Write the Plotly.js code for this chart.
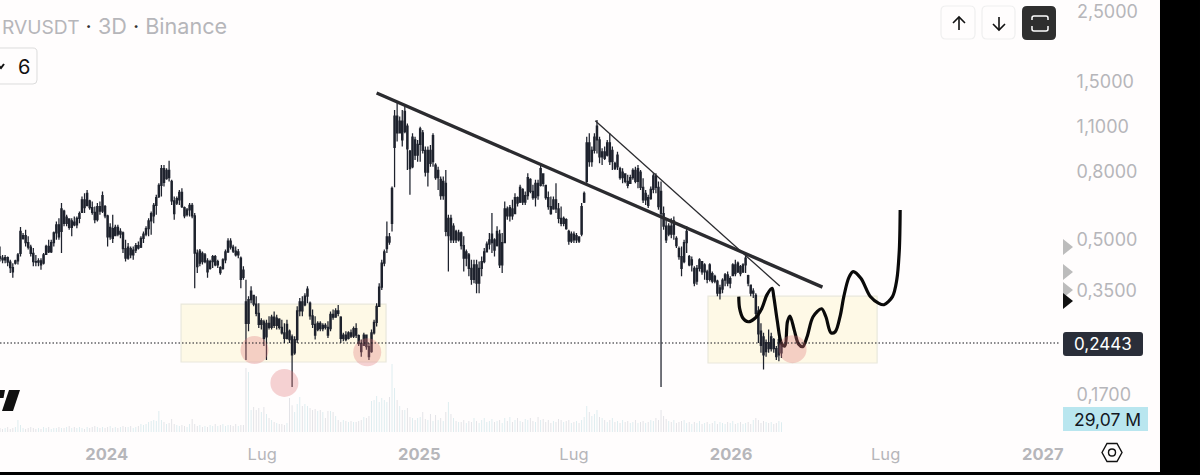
<!DOCTYPE html>
<html>
<head>
<meta charset="utf-8">
<script src="https://cdn.plot.ly/plotly-3.0.1.min.js"></script>
<style>html,body{margin:0;padding:0;background:#fffdfd;overflow:hidden}#c{width:1200px;height:475px}</style>
</head>
<body>
<div id="c"></div>
<script>
const firstCandle = '2023-08-29';
const candleStepDays = 3;
const open = [
.445,.440,.435,.442,.428,.412,.425,.432,.455,.505,
.515,.490,.475,.455,.430,.428,.432,.425,.452,.478,
.460,.490,.525,.555,.530,.610,.560,.578,.545,.565,
.555,.580,.605,.660,.635,.655,.625,.605,.575,.630,
.610,.630,.590,.510,.540,.515,.545,.520,.525,.470,
.440,.470,.450,.465,.480,.475,.505,.520,.540,.570,
.590,.635,.675,.730,.820,.765,.810,.750,.655,.645,
.660,.695,.625,.595,.615,.635,.590,.456,.425,.455,
.430,.432,.410,.430,.445,.420,.412,.410,.435,.460,
.495,.475,.462,.450,.440,.405,.325,.280,.330,.340,
.320,.300,.278,.283,.255,.280,.272,.292,.276,.288,
.272,.262,.252,.265,.255,.228,.250,.305,.325,.318,
.338,.322,.295,.278,.268,.280,.270,.276,.272,.270,
.298,.292,.305,.292,.252,.258,.252,.262,.256,.270,
.257,.243,.240,.258,.238,.230,.262,.282,.315,.360,
.425,.470,.510,.560,.950,1.18,1.05,1.14,1.06,1.10,
.925,.830,1.00,.900,.970,1.05,.930,.800,.930,.860,
.840,.770,.760,.680,.740,.515,.580,.500,.530,.500,
.525,.480,.440,.450,.410,.380,.420,.370,.410,.430,
.460,.485,.490,.500,.480,.520,.420,.490,.620,.590,
.620,.600,.670,.650,.710,.650,.680,.760,.700,.670,
.740,.730,.790,.730,.670,.630,.620,.660,.620,.580,
.560,.575,.530,.495,.520,.500,.510,.520,.650,.750,
.980,.860,.930,1.00,1.00,.890,.920,.900,.980,.860,
.850,.830,.820,.770,.790,.750,.740,.770,.810,.750,
.800,.720,.660,.670,.665,.710,.780,.720,.700,.600,
.550,.520,.550,.520,.505,.470,.445,.430,.490,.445,
.420,.410,.375,.410,.430,.400,.400,.380,.395,.375,
.375,.345,.355,.378,.392,.370,.390,.420,.400,.415,
.400,.420,.390,.365,.345,.340,.305,.265,.255,.230,
.245,.235,.250,.235,.225,.228];
const high = [
.477,.450,.450,.445,.435,.425,.435,.456,.546,.524,
.536,.512,.483,.472,.450,.440,.440,.456,.483,.500,
.500,.530,.568,.581,.645,.616,.595,.581,.581,.588,
.588,.609,.675,.691,.707,.660,.652,.630,.645,.652,
.699,.637,.595,.561,.595,.555,.555,.542,.530,.500,
.489,.477,.477,.489,.494,.512,.530,.549,.581,.609,
.645,.683,.741,.841,.841,.821,.866,.758,.675,.675,
.707,.715,.630,.623,.645,.645,.602,.467,.469,.461,
.456,.440,.435,.450,.450,.435,.416,.440,.467,.505,
.505,.483,.477,.469,.445,.416,.379,.338,.362,.341,
.338,.322,.290,.287,.287,.294,.297,.304,.297,.290,
.287,.280,.287,.268,.259,.256,.315,.334,.338,.345,
.362,.326,.308,.294,.284,.284,.280,.280,.284,.304,
.308,.311,.318,.294,.262,.265,.265,.268,.274,.280,
.259,.250,.262,.259,.244,.268,.287,.322,.370,.435,
.467,.568,.524,.724,1.231,1.305,1.176,1.231,1.275,1.122,
.933,1.047,1.023,1.000,1.096,1.071,.955,.955,.966,1.047,
.851,.831,.776,.776,.812,.595,.595,.561,.536,.536,
.530,.512,.467,.456,.435,.435,.435,.430,.445,.472,
.494,.524,.602,.505,.549,.536,.524,.652,.630,.637,
.660,.691,.675,.733,.715,.699,.794,.767,.733,.758,
.758,.841,.794,.733,.699,.675,.675,.741,.645,.630,
.588,.581,.536,.530,.530,.524,.512,.645,.699,1.023,
1.047,.955,1.047,1.148,1.023,.944,.955,1.000,1.047,.955,
.860,.922,.831,.821,.794,.785,.785,.821,.831,.841,
.812,.767,.707,.683,.724,.794,.794,.750,.750,.630,
.575,.561,.581,.588,.512,.477,.477,.500,.549,.450,
.445,.416,.420,.440,.430,.425,.406,.425,.401,.392,
.379,.366,.383,.397,.401,.388,.425,.435,.430,.420,
.425,.450,.392,.366,.357,.345,.315,.280,.262,.250,
.268,.262,.253,.239,.262,.247];
const low = [
.430,.425,.425,.416,.397,.384,.421,.421,.445,.500,
.477,.467,.445,.416,.416,.416,.406,.421,.450,.456,
.456,.477,.500,.500,.456,.549,.549,.536,.512,.549,
.542,.561,.602,.602,.630,.616,.595,.561,.568,.595,
.602,.581,.477,.500,.489,.512,.512,.505,.456,.430,
.435,.440,.435,.456,.467,.472,.489,.512,.512,.518,
.561,.595,.668,.675,.724,.758,.750,.637,.575,.637,
.637,.623,.581,.588,.588,.581,.357,.397,.416,.421,
.425,.384,.406,.411,.416,.411,.392,.406,.425,.456,
.467,.456,.445,.440,.357,.379,.217,.265,.322,.315,
.294,.271,.268,.239,.217,.268,.268,.271,.268,.268,
.259,.244,.250,.244,.180,.225,.244,.294,.294,.315,
.322,.287,.271,.250,.265,.265,.265,.268,.253,.265,
.287,.294,.294,.244,.247,.247,.250,.253,.253,.253,
.239,.222,.239,.233,.217,.228,.259,.274,.315,.353,
.416,.456,.483,.530,.720,.989,1.047,.955,1.047,.812,
.683,.821,.870,.860,.860,.911,.776,.724,.831,.831,
.758,.707,.660,.660,.512,.401,.489,.489,.489,.494,
.467,.401,.416,.388,.366,.370,.345,.345,.388,.425,
.467,.467,.456,.445,.477,.411,.397,.489,.575,.568,
.575,.602,.630,.645,.637,.637,.660,.691,.660,.630,
.660,.724,.724,.660,.616,.595,.616,.602,.561,.549,
.549,.536,.483,.489,.489,.489,.489,.512,.645,.741,
.831,.831,.911,.911,.851,.841,.870,.891,.841,.812,
.812,.812,.758,.741,.741,.715,.741,.758,.741,.715,
.707,.645,.637,.623,.660,.691,.691,.616,.180,.536,
.489,.512,.505,.500,.472,.435,.388,.425,.456,.416,
.401,.362,.366,.401,.392,.379,.370,.374,.370,.370,
.338,.330,.345,.362,.362,.357,.388,.388,.397,.388,
.397,.397,.362,.338,.334,.294,.244,.228,.203,.222,
.228,.230,.228,.217,.215,.220];
const close = [
.440,.435,.442,.428,.412,.400,.432,.450,.530,.515,
.490,.475,.455,.430,.428,.432,.420,.450,.478,.460,
.490,.525,.555,.510,.620,.560,.585,.545,.570,.555,
.580,.600,.660,.625,.690,.625,.605,.575,.630,.610,
.680,.590,.510,.545,.505,.545,.520,.530,.470,.440,
.475,.450,.465,.480,.472,.505,.520,.540,.570,.600,
.635,.670,.730,.820,.745,.810,.770,.655,.600,.665,
.695,.630,.590,.615,.635,.590,.456,.415,.462,.430,
.450,.400,.430,.445,.420,.430,.398,.435,.460,.495,
.475,.462,.450,.460,.380,.385,.280,.330,.350,.320,
.300,.278,.285,.252,.280,.272,.292,.276,.290,.272,
.262,.252,.278,.250,.225,.250,.305,.325,.305,.338,
.355,.295,.278,.258,.280,.270,.276,.272,.258,.298,
.292,.305,.300,.252,.258,.250,.262,.256,.270,.258,
.243,.230,.258,.238,.222,.262,.282,.315,.360,.425,
.460,.510,.492,.715,1.18,1.05,1.14,1.00,1.22,.940,
.820,1.02,.900,.970,1.08,.930,.800,.930,.850,1.03,
.770,.810,.680,.750,.530,.580,.500,.550,.500,.525,
.480,.440,.460,.410,.380,.420,.370,.410,.430,.460,
.485,.500,.520,.465,.530,.420,.490,.620,.590,.625,
.590,.670,.645,.720,.650,.680,.770,.700,.670,.740,
.680,.820,.740,.670,.630,.600,.660,.620,.580,.560,
.580,.540,.495,.520,.500,.515,.495,.630,.690,.980,
.860,.930,1.02,1.10,.890,.920,.880,.980,.860,.930,
.820,.900,.770,.800,.750,.730,.770,.810,.750,.820,
.720,.660,.690,.635,.710,.780,.720,.630,.600,.550,
.500,.550,.520,.570,.480,.445,.410,.490,.530,.420,
.435,.370,.410,.435,.400,.420,.380,.420,.375,.388,
.345,.358,.378,.392,.370,.382,.420,.395,.425,.395,
.420,.440,.370,.345,.350,.300,.260,.240,.225,.245,
.235,.255,.235,.222,.250,.2443];
const volumeM = [
12,9,12,15,9,12,15,36,21,12,9,12,15,12,9,12,9,15,12,15,
9,12,12,15,12,12,15,18,12,15,12,15,12,9,15,12,15,18,15,12,
15,12,15,18,12,15,12,15,18,15,15,18,12,15,18,24,21,24,30,33,
36,33,63,36,30,24,27,39,24,21,18,21,18,15,24,39,24,18,21,15,
18,15,21,18,24,18,21,24,18,21,21,18,24,18,21,21,192,180,66,75,
66,72,60,75,54,42,36,30,27,24,24,21,27,102,80,60,84,105,78,84,
78,72,66,69,63,66,60,42,63,63,60,48,36,30,36,33,30,33,30,30,
33,36,45,42,48,93,96,108,90,102,96,90,105,204,132,96,78,66,66,72,
45,42,36,42,45,60,39,36,54,33,51,36,42,33,60,90,54,42,33,30,
30,36,27,33,30,42,33,27,36,42,30,33,39,30,33,36,27,42,33,45,
30,36,42,33,30,39,36,42,33,30,45,36,39,30,36,27,33,30,39,36,
30,33,36,27,30,33,27,36,45,78,60,48,54,66,45,42,36,30,36,42,
30,33,27,36,30,33,27,30,36,27,30,33,27,30,36,33,42,36,66,48,
39,33,30,36,27,30,33,36,27,30,24,30,27,33,24,27,30,24,27,33,
24,30,27,24,30,27,33,24,27,30,24,27,30,24,36,42,36,27,33,30,
27,30,24,27,33,29.07];

const candleDates = open.map(function(_, i){
  const d = new Date(Date.parse(firstCandle + 'T00:00:00Z') + i * candleStepDays * 864e5);
  return d.toISOString().slice(0, 10);
});

const sketchDates = ['2026-01-10','2026-01-11','2026-01-15','2026-01-21','2026-01-29','2026-02-06','2026-02-12','2026-02-18','2026-02-20','2026-02-24','2026-03-01','2026-03-05','2026-03-08','2026-03-11','2026-03-16','2026-03-21','2026-03-26','2026-03-31','2026-04-07','2026-04-17','2026-04-22','2026-04-28','2026-05-03','2026-05-09','2026-05-13','2026-05-19','2026-05-24','2026-06-02','2026-06-13','2026-06-23','2026-06-29','2026-07-09','2026-07-14','2026-07-17','2026-07-18'];
const sketchPrices = [.337,.3105,.290,.283,.290,.3105,.341,.357,.337,.286,.2436,.239,.283,.2944,.267,.2425,.238,.255,.293,.3097,.293,.262,.264,.2965,.337,.385,.4006,.3825,.337,.3215,.3186,.337,.378,.4656,.6145];
const trendDates = ['2024-11-12','2026-04-18'];
const trendPrices = [1.385,.360];
const thinDates = ['2025-07-26','2026-02-27'];
const thinPrices = [1.143,.3625];
const circleDates = ['2024-06-22','2024-07-27','2024-11-01','2026-03-14'];
const circlePrices = [.2325,.185,.229,.234];
const zoneDates = [['2024-03-28','2024-11-23'],['2025-12-05','2026-06-21']];
const zonePrices = [[.214,.32],[.2125,.338]];
const lastPrice = .2443;

const priceTicks = [1.5,1.1,.8,.5,.35,.17];
const priceLabels = ['1,5000','1,1000','0,8000','0,5000','0,3500','0,1700'];
const topPriceLabel = '2,5000';
const timeTicks = ['2024-01-01','2024-07-01','2025-01-01','2025-07-01','2026-01-01','2026-07-01','2027-01-01'];
const timeLabels = ['<b>2024</b>','Lug','<b>2025</b>','Lug','<b>2026</b>','Lug','<b>2027</b>'];

const W = 1200, H = 475, PLOT_W = 1065, PLOT_H = 432;
const dark = '#1e222d', mute = '#b6b6ba';
const X = function(x){ return x / PLOT_W; };
const Y = function(y){ return 1 - y / PLOT_H; };
function pt(x, y){ return X(x).toFixed(5) + ',' + Y(y).toFixed(5); }
function rr(x0, y0, x1, y1, r){
  return 'M' + pt(x0 + r, y0) + ' L' + pt(x1 - r, y0) + ' Q' + pt(x1, y0) + ' ' + pt(x1, y0 + r) +
    ' L' + pt(x1, y1 - r) + ' Q' + pt(x1, y1) + ' ' + pt(x1 - r, y1) +
    ' L' + pt(x0 + r, y1) + ' Q' + pt(x0, y1) + ' ' + pt(x0, y1 - r) +
    ' L' + pt(x0, y0 + r) + ' Q' + pt(x0, y0) + ' ' + pt(x0 + r, y0) + ' Z';
}
function poly(points, closed){
  return points.map(function(p, i){ return (i ? 'L' : 'M') + pt(p[0], p[1]); }).join(' ') + (closed ? ' Z' : '');
}
function ui(path, fill, stroke, width){
  return {type:'path', xref:'paper', yref:'paper', path:path, fillcolor:fill || 'rgba(0,0,0,0)',
    line:{color:stroke || 'rgba(0,0,0,0)', width:width || 0}, layer:'above'};
}
function tri(cy, color){ return ui(poly([[1063,cy-8],[1073,cy],[1063,cy+8]], true), color); }
function note(x, y, text, size, color, anchor){
  return {xref:'paper', yref:'paper', x:X(x), y:Y(y), text:text, showarrow:false,
    xanchor:anchor || 'left', yanchor:'middle', font:{family:'Inter, sans-serif', size:size, color:color}};
}

const shapes = [];
zoneDates.forEach(function(d, i){
  shapes.push({type:'rect', xref:'x', yref:'y2', x0:d[0], x1:d[1], y0:zonePrices[i][0], y1:zonePrices[i][1],
    fillcolor:'#fef9e6', line:{color:'#e9e8dc', width:1.2}, layer:'below'});
});
shapes.push({type:'line', xref:'paper', yref:'y2', x0:0, x1:X(1060), y0:lastPrice, y1:lastPrice,
  line:{color:'#15171d', width:1.1, dash:'1.5px,2px'}, layer:'above'});

[
  ui(rr(-10,48,37,84,4), '#fffdfd', '#dcdcdc', 1),
  ui(poly([[-1,66],[1,68],[4,64]]), null, '#111', 2),
  ui(rr(941,6,975,39,5), '#fffdfd', '#efefef', 1.2),
  ui(rr(982,6,1015,39,5), '#fffdfd', '#efefef', 1.2),
  ui(rr(1022,6,1056,40,5), '#2f2f2f'),
  ui(poly([[959,30],[959,17]]), null, '#111', 1.6),
  ui(poly([[953,23],[959,17],[965,23]]), null, '#111', 1.6),
  ui(poly([[999,17],[999,30]]), null, '#111', 1.6),
  ui(poly([[993,24],[999,30],[1005,24]]), null, '#111', 1.6),
  ui('M' + pt(1032,20) + ' L' + pt(1032,18) + ' Q' + pt(1032,16) + ' ' + pt(1034,16) + ' L' + pt(1046,16) + ' Q' + pt(1048,16) + ' ' + pt(1048,18) + ' L' + pt(1048,20), null, '#fff', 1.5),
  ui('M' + pt(1032,26) + ' L' + pt(1032,29) + ' Q' + pt(1032,31) + ' ' + pt(1034,31) + ' L' + pt(1046,31) + ' Q' + pt(1048,31) + ' ' + pt(1048,29) + ' L' + pt(1048,26), null, '#fff', 1.5),
  tri(247,'#bcbcbc'), tri(272,'#bcbcbc'), tri(290,'#bcbcbc'), tri(301,'#111'),
  ui(rr(1063,332,1143,356,3), '#2a2e39'),
  ui(rr(1063,407,1148,431,0), '#b9e6ef'),
  ui(poly([[1102,452.5],[1107,443.5],[1117,443.5],[1122,452.5],[1117,461.5],[1107,461.5]], true), null, '#111', 1.4),
  ui('M' + pt(1108.5,452.5) + ' Q' + pt(1108.5,449) + ' ' + pt(1112,449) + ' Q' + pt(1115.5,449) + ' ' + pt(1115.5,452.5) + ' Q' + pt(1115.5,456) + ' ' + pt(1112,456) + ' Q' + pt(1108.5,456) + ' ' + pt(1108.5,452.5) + ' Z', null, '#111', 1.4),
  ui(poly([[9,390],[20,390],[13,411],[2,411]], true), '#111'),
  ui(poly([[0,390],[5,390],[3.5,398],[0,398]], true), '#111'),
  ui(poly([[1160,0],[1200,0],[1200,475],[1160,475]], true), '#000'),
  ui(poly([[0,472],[1200,472],[1200,475],[0,475]], true), '#000')
].forEach(function(s){ shapes.push(s); });

const annotations = [
  note(0, 25.5, '<span style="font-size:19.2px">RVUSDT</span> <span style="color:#333">·</span> 3D <span style="color:#333">·</span> Binance', 21.6, mute),
  note(24, 67, '6', 20, '#111', 'center'),
  note(1075, 11.5, topPriceLabel, 18, mute),
  note(1103, 344, '0,2443', 17, '#ffffff', 'center'),
  note(1107, 419, '29,07 M', 17.5, '#131722', 'center')
];

const traces = [
  {type:'bar', x:candleDates, y:volumeM, xaxis:'x', yaxis:'y', width:1.1 * 864e5,
   marker:{color:close.map(function(c, i){ return c >= open[i] ? '#dcecef' : '#e2e2e6'; }), line:{width:0}}, hoverinfo:'skip'},
  {type:'candlestick', x:candleDates, open:open, high:high, low:low, close:close, xaxis:'x', yaxis:'y2',
   width:2.2 * 864e5, whiskerwidth:0,
   increasing:{line:{color:dark, width:1.25}, fillcolor:dark},
   decreasing:{line:{color:dark, width:1.25}, fillcolor:dark}, hoverinfo:'skip'},
  {type:'scatter', mode:'lines', x:trendDates, y:trendPrices, xaxis:'x', yaxis:'y2', line:{color:'#2b2b2f', width:3.4}, hoverinfo:'skip'},
  {type:'scatter', mode:'lines', x:thinDates, y:thinPrices, xaxis:'x', yaxis:'y2', line:{color:'#2b2b2f', width:1.3}, hoverinfo:'skip'},
  {type:'scatter', mode:'lines', x:sketchDates, y:sketchPrices, xaxis:'x', yaxis:'y2', line:{color:'#0a0a0a', width:3.2, shape:'spline', smoothing:0.9}, hoverinfo:'skip'},
  {type:'scatter', mode:'markers', x:circleDates, y:circlePrices, xaxis:'x', yaxis:'y2',
   marker:{size:28, color:'rgba(226,120,125,0.33)', line:{width:0}}, hoverinfo:'skip'}
];

const layout = {
  width:W, height:H, showlegend:false, paper_bgcolor:'#fffdfd', plot_bgcolor:'#fffdfd',
  margin:{l:0, r:W - PLOT_W, t:0, b:H - PLOT_H, pad:0},
  font:{family:'Inter, sans-serif', color:mute},
  xaxis:{type:'date', range:['2023-08-29','2027-01-27'], rangeslider:{visible:false}, showgrid:false, zeroline:false, showline:false,
    tickmode:'array', tickvals:timeTicks, ticktext:timeLabels, ticks:'outside', ticklen:7, tickcolor:'rgba(0,0,0,0)',
    tickangle:0, ticklabeloverflow:'allow', tickfont:{family:'Inter, sans-serif', size:16.5, color:mute}},
  yaxis:{range:[0,1296], visible:false, showgrid:false, zeroline:false, fixedrange:true},
  yaxis2:{type:'log', overlaying:'y', side:'right', anchor:'x', range:[-0.8807,0.4221], showgrid:false, zeroline:false, showline:false,
    tickmode:'array', tickvals:priceTicks, ticktext:priceLabels, ticks:'outside', ticklen:7, ticklabeloverflow:'allow', tickcolor:'rgba(0,0,0,0)',
    tickfont:{family:'Inter, sans-serif', size:18, color:mute}},
  shapes:shapes, annotations:annotations
};

Plotly.newPlot('c', traces, layout, {displayModeBar:false, staticPlot:true});
</script>
</body>
</html>
